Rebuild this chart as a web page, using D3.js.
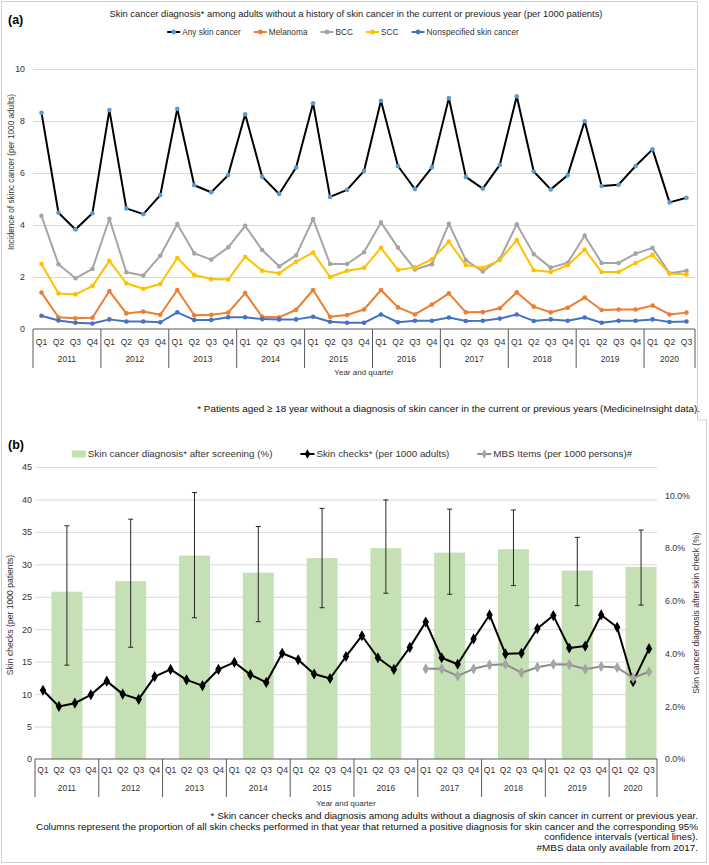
<!DOCTYPE html>
<html>
<head>
<meta charset="utf-8">
<script src="https://cdn.jsdelivr.net/npm/d3@7"></script>
<style>
body { margin: 0; background: #fff; }
svg text { font-family: "Liberation Sans", Arial, sans-serif; fill: #333; }
</style>
</head>
<body>
<div id="chart"></div>
<script>
var quarters = ['Q1', 'Q2', 'Q3', 'Q4'];
var years = ['2011', '2012', '2013', '2014', '2015', '2016', '2017', '2018', '2019', '2020'];

// panel (a), per 1000 patients, 2011 Q1 .. 2020 Q3
var anySkin = [8.32, 4.47, 3.83, 4.45, 8.42, 4.64, 4.42, 5.15, 8.47, 5.53, 5.26, 5.92, 8.26, 5.86, 5.19, 6.21,
    8.68, 5.08, 5.35, 6.08, 8.78, 6.27, 5.38, 6.22, 8.88, 5.85, 5.40, 6.31, 8.95, 6.06, 5.37, 5.91,
    7.99, 5.50, 5.55, 6.27, 6.91, 4.87, 5.05];
var melanoma = [1.40, 0.45, 0.41, 0.43, 1.46, 0.60, 0.67, 0.55, 1.50, 0.53, 0.55, 0.63, 1.38, 0.47, 0.45, 0.74,
    1.50, 0.47, 0.54, 0.75, 1.50, 0.83, 0.56, 0.94, 1.37, 0.64, 0.65, 0.80, 1.41, 0.86, 0.64, 0.82,
    1.21, 0.73, 0.75, 0.75, 0.90, 0.56, 0.63];
var bcc = [4.35, 2.49, 1.95, 2.31, 4.24, 2.18, 2.06, 2.82, 4.04, 2.91, 2.67, 3.14, 3.97, 3.04, 2.41, 2.83,
    4.23, 2.50, 2.50, 2.95, 4.10, 3.13, 2.29, 2.49, 4.05, 2.65, 2.21, 2.69, 4.03, 2.88, 2.36, 2.55,
    3.59, 2.54, 2.54, 2.90, 3.12, 2.14, 2.24];
var scc = [2.50, 1.37, 1.33, 1.65, 2.62, 1.76, 1.55, 1.73, 2.73, 2.08, 1.92, 1.90, 2.78, 2.24, 2.14, 2.59,
    2.94, 2.00, 2.24, 2.35, 3.12, 2.27, 2.37, 2.68, 3.36, 2.46, 2.35, 2.65, 3.42, 2.26, 2.19, 2.45,
    3.06, 2.19, 2.19, 2.54, 2.85, 2.13, 2.10];
var nonspec = [0.51, 0.33, 0.24, 0.21, 0.37, 0.29, 0.29, 0.26, 0.64, 0.35, 0.35, 0.45, 0.45, 0.38, 0.37, 0.37,
    0.47, 0.28, 0.24, 0.24, 0.56, 0.26, 0.32, 0.32, 0.44, 0.31, 0.32, 0.40, 0.56, 0.31, 0.37, 0.32,
    0.44, 0.24, 0.32, 0.32, 0.37, 0.27, 0.29];

// panel (b)
var skinChecks = [10.6, 8.1, 8.6, 9.9, 12.0, 10.0, 9.2, 12.7, 13.8, 12.2, 11.3, 13.8, 14.9, 13.0, 11.8, 16.3,
    15.3, 13.1, 12.4, 15.8, 19.0, 15.6, 13.8, 17.2, 21.1, 15.6, 14.6, 18.5, 22.2, 16.2, 16.3, 20.1,
    22.1, 17.1, 17.4, 22.2, 20.3, 11.9, 17.0];
var mbsItems = [null, null, null, null, null, null, null, null, null, null, null, null, null, null, null, null,
    null, null, null, null, null, null, null, null, 13.9, 13.9, 12.8, 13.9, 14.5, 14.6, 13.3, 14.15,
    14.6, 14.55, 13.85, 14.25, 14.1, 12.5, 13.45];
var diagPct = [6.35, 6.75, 7.72, 7.07, 7.62, 8.00, 7.83, 7.96, 7.15, 7.29];
var ciLow = [3.56, 4.24, 5.36, 5.21, 5.74, 6.29, 6.25, 6.58, 5.82, 5.84];
var ciHigh = [8.85, 9.10, 10.11, 8.82, 9.51, 9.83, 9.48, 9.45, 8.41, 8.69];

var ticksA = [0, 2, 4, 6, 8, 10];
var ticksB = [0, 5, 10, 15, 20, 25, 30, 35, 40, 45];
var ticksPct = [0, 2, 4, 6, 8, 10];

var width = 709, height = 865;

var periods = [];
years.forEach(function(y) {
    quarters.forEach(function(q) { periods.push(y + ' ' + q); });
});
periods = periods.slice(0, anySkin.length);

var svg = d3.select('#chart').append('svg')
    .attr('width', width)
    .attr('height', height);

// figure frame
svg.append('path')
    .attr('d', 'M1.5,1.5H697.5V420H706.5V862.5H1.5Z')
    .attr('fill', 'none')
    .attr('stroke', '#d0d0d0');

function quarterAxis(g, x, y0, left, right, qy, yy, ly) {
    g.append('line').attr('x1', left).attr('x2', right).attr('y1', y0).attr('y2', y0)
        .attr('stroke', '#595959');
    var bounds = years.map(function(y) { return x(y + ' Q1'); }).concat([right]);
    bounds.forEach(function(bx) {
        g.append('line').attr('x1', bx).attr('x2', bx).attr('y1', y0).attr('y2', yy + 6)
            .attr('stroke', '#595959');
    });
    g.selectAll('.ql').data(periods).enter().append('text')
        .attr('x', function(d) { return x(d) + x.bandwidth() / 2; })
        .attr('y', qy)
        .attr('text-anchor', 'middle')
        .attr('font-size', 8.5)
        .text(function(d) { return d.split(' ')[1]; });
    years.forEach(function(y) {
        var ps = periods.filter(function(p) { return p.indexOf(y) === 0; });
        var cx = (x(ps[0]) + x(ps[ps.length - 1]) + x.bandwidth()) / 2;
        g.append('text').attr('x', cx).attr('y', yy).attr('text-anchor', 'middle')
            .attr('font-size', 8.5).text(y);
    });
    g.append('text').attr('x', (left + right) / 2).attr('y', ly).attr('text-anchor', 'middle')
        .attr('font-size', 8).text('Year and quarter');
}

function drawLegend(items, cx, cy, symW, gap, fs) {
    var g = svg.append('g');
    var x = 0;
    items.forEach(function(it) {
        var ig = g.append('g').attr('transform', 'translate(' + x + ',0)');
        it.symbol(ig, symW);
        var t = ig.append('text').attr('x', symW + 2).attr('dy', '0.35em')
            .attr('font-size', fs).text(it.label);
        x += symW + 2 + t.node().getComputedTextLength() + gap;
    });
    x -= gap;
    g.attr('transform', 'translate(' + (cx - x / 2) + ',' + cy + ')');
}

function lineSymbol(color, marker, shape) {
    return function(g, w) {
        g.append('line').attr('x1', 0).attr('x2', w).attr('stroke', color).attr('stroke-width', 2);
        g.append('path').attr('transform', 'translate(' + w / 2 + ',0)')
            .attr('d', d3.symbol().type(shape).size(shape === d3.symbolDiamond ? 26 : 18)())
            .attr('fill', marker);
    };
}

/* ---------- panel (a) ---------- */
var xa = d3.scaleBand().domain(periods).range([33, 695]);
var ya = d3.scaleLinear().domain([0, 10]).range([329, 69]);
var ga = svg.append('g');

svg.append('text').attr('x', 8).attr('y', 24).attr('font-size', 12.5).attr('font-weight', 'bold')
    .style('fill', '#000').text('(a)');
svg.append('text').attr('x', 356).attr('y', 16.5).attr('text-anchor', 'middle').attr('font-size', 9.4)
    .style('fill', '#222')
    .text('Skin cancer diagnosis* among adults without a history of skin cancer in the current or previous year (per 1000 patients)');

ga.append('g')
    .attr('transform', 'translate(33,0)')
    .call(d3.axisLeft(ya).tickValues(ticksA).tickSize(-662).tickPadding(8).tickFormat(d3.format('d')))
    .call(function(g) {
        g.select('.domain').remove();
        g.selectAll('.tick line').attr('stroke', '#d9d9d9').filter(function(d) { return d === 0; }).remove();
        g.selectAll('.tick text').attr('font-size', 8.8).attr('font-family', null).style('fill', '#333');
    });

ga.append('text')
    .attr('transform', 'translate(14,172) rotate(-90)')
    .attr('text-anchor', 'middle').attr('font-size', 8.2)
    .text('Incidence of skinc cancer  (per 1000 adults)');

quarterAxis(ga, xa, 329, 33, 695, 345, 362, 375);

var seriesA = [
    { label: 'Any skin cancer', values: anySkin, line: '#000000', marker: '#5B9BD5' },
    { label: 'Melanoma', values: melanoma, line: '#ED7D31', marker: '#ED7D31' },
    { label: 'BCC', values: bcc, line: '#A5A5A5', marker: '#A5A5A5' },
    { label: 'SCC', values: scc, line: '#FFC000', marker: '#FFC000' },
    { label: 'Nonspecified skin cancer', values: nonspec, line: '#4472C4', marker: '#4472C4' }
];

var lineA = d3.line()
    .x(function(d, i) { return xa(periods[i]) + xa.bandwidth() / 2; })
    .y(function(d) { return ya(d); });

seriesA.forEach(function(s) {
    ga.append('path').attr('d', lineA(s.values)).attr('fill', 'none')
        .attr('stroke', s.line).attr('stroke-width', 2).attr('stroke-linejoin', 'round');
    ga.selectAll(null).data(s.values).enter().append('circle')
        .attr('cx', function(d, i) { return xa(periods[i]) + xa.bandwidth() / 2; })
        .attr('cy', function(d) { return ya(d); })
        .attr('r', 2.3)
        .attr('fill', s.marker);
});

drawLegend(seriesA.map(function(s) {
    return { label: s.label, symbol: lineSymbol(s.line, s.marker, d3.symbolCircle) };
}), 343, 32, 13, 13, 8.3);

svg.append('text').attr('x', 700).attr('y', 412).attr('text-anchor', 'end').attr('font-size', 9.9)
    .style('fill', '#111')
    .text('* Patients aged \u2265 18 year without a diagnosis of skin cancer in the current or previous years (MedicineInsight data).');

/* ---------- panel (b) ---------- */
var xb = d3.scaleBand().domain(periods).range([35, 657]);
var yb = d3.scaleLinear().domain([0, 45]).range([759, 467]);
var yr = d3.scaleLinear().domain([0, 11.08]).range([759, 467]);
var gb = svg.append('g');

svg.append('text').attr('x', 8).attr('y', 449).attr('font-size', 12.5).attr('font-weight', 'bold')
    .style('fill', '#000').text('(b)');

gb.append('g')
    .attr('transform', 'translate(35,0)')
    .call(d3.axisLeft(yb).tickValues(ticksB).tickSize(-622).tickPadding(3))
    .call(function(g) {
        g.select('.domain').remove();
        g.selectAll('.tick line').attr('stroke', '#d9d9d9').filter(function(d) { return d === 0; }).remove();
        g.selectAll('.tick text').attr('font-size', 9).attr('font-family', null).style('fill', '#333');
    });

gb.append('g')
    .attr('transform', 'translate(657,0)')
    .call(d3.axisRight(yr).tickValues(ticksPct).tickSize(0).tickPadding(8)
        .tickFormat(function(d) { return d.toFixed(1) + '%'; }))
    .call(function(g) {
        g.select('.domain').remove();
        g.selectAll('.tick text').attr('font-size', 8.8).attr('font-family', null).style('fill', '#333');
    });

gb.append('text')
    .attr('transform', 'translate(13,615) rotate(-90)')
    .attr('text-anchor', 'middle').attr('font-size', 8.6)
    .text('Skin checks (per 1000 patients)');
gb.append('text')
    .attr('transform', 'translate(699,613) rotate(-90)')
    .attr('text-anchor', 'middle').attr('font-size', 8.6)
    .text('Skin cancer diagnosis after skin check (%)');

// yearly columns centred on the middle of each year
var barW = xb.bandwidth() * 4 * 0.485;
var barX = function(i) { return xb(years[i] + ' Q3'); };

gb.selectAll('.bar').data(diagPct).enter().append('rect')
    .attr('x', function(d, i) { return barX(i) - barW / 2; })
    .attr('y', function(d) { return yr(d); })
    .attr('width', barW)
    .attr('height', function(d) { return yr(0) - yr(d); })
    .attr('fill', '#C5E0B4');

diagPct.forEach(function(d, i) {
    var cx = barX(i);
    gb.append('line').attr('x1', cx).attr('x2', cx).attr('y1', yr(ciLow[i])).attr('y2', yr(ciHigh[i]))
        .attr('stroke', '#262626').attr('stroke-width', 1);
    [ciLow[i], ciHigh[i]].forEach(function(v) {
        gb.append('line').attr('x1', cx - 2.5).attr('x2', cx + 2.5).attr('y1', yr(v)).attr('y2', yr(v))
            .attr('stroke', '#262626').attr('stroke-width', 1);
    });
});

quarterAxis(gb, xb, 759, 35, 657, 773, 791, 806);

var lineB = d3.line()
    .defined(function(d) { return d != null; })
    .x(function(d, i) { return xb(periods[i]) + xb.bandwidth() / 2; })
    .y(function(d) { return yb(d); });

var seriesB = [
    { label: 'Skin checks* (per 1000 adults)', values: skinChecks, line: '#000000', marker: '#000000' },
    { label: 'MBS Items (per 1000 persons)#', values: mbsItems, line: '#8c8c8c', marker: '#A5A5A5' }
];

seriesB.forEach(function(s) {
    gb.append('path').attr('d', lineB(s.values)).attr('fill', 'none')
        .attr('stroke', s.line).attr('stroke-width', 2).attr('stroke-linejoin', 'round');
    gb.selectAll(null).data(s.values.map(function(v, i) { return { v: v, i: i }; })
        .filter(function(d) { return d.v != null; }))
        .enter().append('path')
        .attr('transform', function(d) {
            return 'translate(' + (xb(periods[d.i]) + xb.bandwidth() / 2) + ',' + yb(d.v) + ')';
        })
        .attr('d', d3.symbol().type(d3.symbolDiamond).size(36)())
        .attr('fill', s.marker);
});

drawLegend([
    { label: 'Skin cancer diagnosis* after screening (%)', symbol: function(g, w) {
        g.append('rect').attr('x', 0).attr('y', -3.5).attr('width', w).attr('height', 7).attr('fill', '#C5E0B4');
    } },
    { label: seriesB[0].label, symbol: lineSymbol(seriesB[0].line, seriesB[0].marker, d3.symbolDiamond) },
    { label: seriesB[1].label, symbol: lineSymbol(seriesB[1].line, seriesB[1].marker, d3.symbolDiamond) }
], 352, 454, 14, 28, 9.8);

var notesB = [
    '* Skin cancer checks and diagnosis among adults without a diagnosis of skin cancer in current or previous year.',
    'Columns represent the proportion of all skin checks performed in that year that returned a positive diagnosis for skin cancer and the corresponding 95%',
    'confidence intervals (vertical lines).',
    '#MBS data only available from 2017.'
];
svg.selectAll('.note').data(notesB).enter().append('text')
    .attr('x', 698)
    .attr('y', function(d, i) { return 819 + i * 10.6; })
    .attr('text-anchor', 'end')
    .attr('font-size', 9.9)
    .style('fill', '#111')
    .text(function(d) { return d; });
</script>
</body>
</html>
